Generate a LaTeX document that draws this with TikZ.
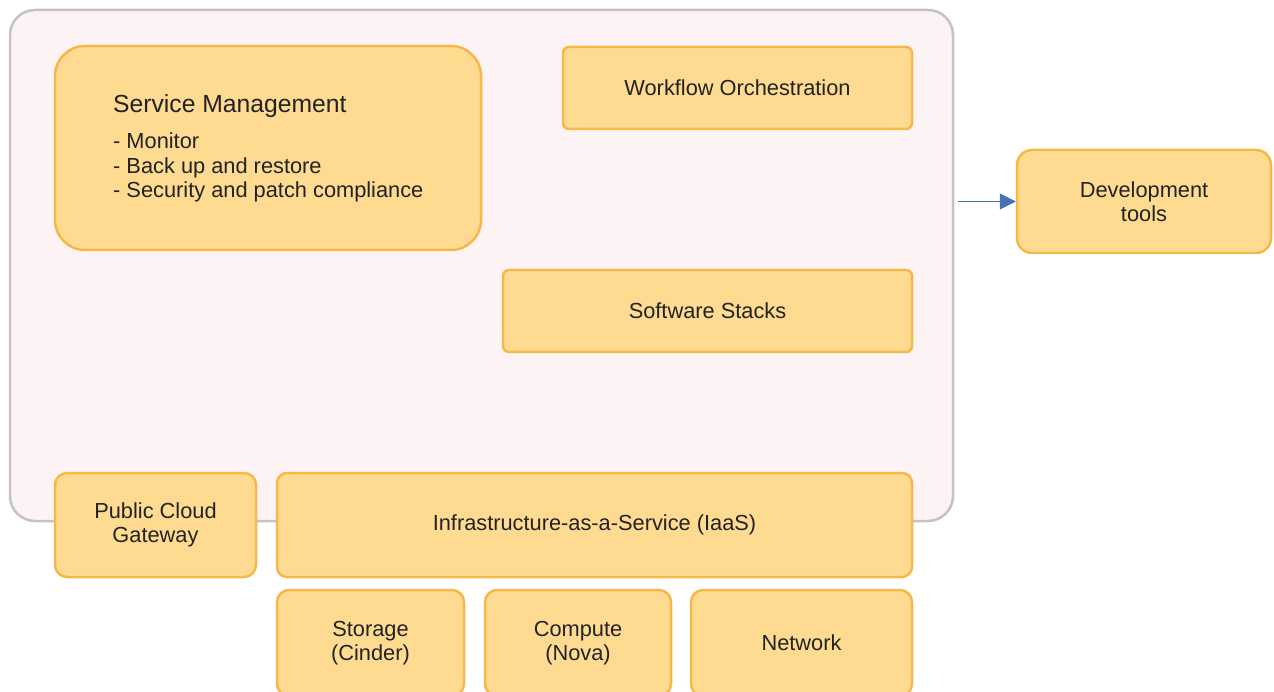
\documentclass[tikz,border=0pt]{standalone}
\usepackage{fontspec}
\setmainfont{Liberation Sans}
\usetikzlibrary{arrows.meta}
\definecolor{boxfill}{HTML}{FFDB91}
\definecolor{boxline}{HTML}{F5B94A}
\definecolor{contfill}{HTML}{FDF3F4}
\definecolor{contline}{HTML}{C3C3C3}
\definecolor{arrowcol}{HTML}{4A6FB5}
\definecolor{txt}{HTML}{222222}
\begin{document}
\begin{tikzpicture}[x=1pt,y=-1pt,
  box/.style={draw=boxline,fill=boxfill,line width=2.5pt,rounded corners=#1,inner sep=0pt,text=txt,font=\fontsize{21.8}{24.5}\selectfont,align=center},
  box/.default=10pt]
\useasboundingbox (0,0) rectangle (1274,692);
\node[draw=contline,fill=contfill,line width=2.5pt,rounded corners=25pt,minimum width=943pt,minimum height=511pt,inner sep=0pt] (cont) at (481.5,265.5) {};
\node[box=30pt,minimum width=426pt,minimum height=204pt] (sm) at (268,148) {};
\node[anchor=west,text=txt,font=\fontsize{24.7}{29}\selectfont,inner sep=0pt] (smt) at (113,106) {Service Management};
\node[anchor=north west,text=txt,font=\fontsize{21.8}{24.5}\selectfont,align=left,inner sep=0pt] (sml) at (113,133) {- Monitor\\- Back up and restore\\- Security and patch compliance};
\node[box=6pt,minimum width=349pt,minimum height=82pt] (wf) at (737.5,88) {Workflow Orchestration};
\node[box=6pt,minimum width=409pt,minimum height=82pt] (ss) at (707.5,311) {Software Stacks};
\node[box=15pt,minimum width=254pt,minimum height=103pt] (dev) at (1144,201.5) {Development\\tools};
\node[box=12pt,minimum width=201pt,minimum height=104pt] (pcg) at (155.5,525) {Public Cloud\\Gateway};
\node[box=10pt,minimum width=635pt,minimum height=104pt] (iaas) at (594.5,525) {Infrastructure-as-a-Service (IaaS)};
\node[box=12pt,minimum width=187pt,minimum height=106pt] (sto) at (370.5,643) {Storage\\(Cinder)};
\node[box=12pt,minimum width=186pt,minimum height=106pt] (com) at (578,643) {Compute\\(Nova)};
\node[box=12pt,minimum width=221pt,minimum height=106pt] (net) at (801.5,643) {Network};
\draw[arrowcol,line width=1pt,-{Triangle[length=16pt,width=16pt]},shorten <=4pt] (cont.east |- dev.west) -- (dev.west);
\end{tikzpicture}
\end{document}
